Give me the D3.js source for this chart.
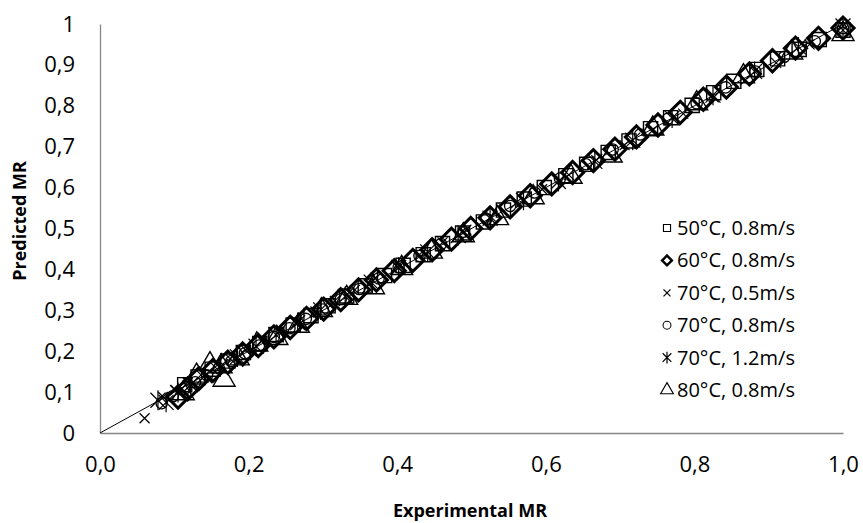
<!DOCTYPE html>
<html>
<head>
<meta charset="utf-8">
<script src="https://cdn.jsdelivr.net/npm/d3@7"></script>
<style>
  body { margin: 0; background: #fff; }
  text { font-family: "Open Sans", Lato, sans-serif; fill: #000; }
</style>
</head>
<body>
<script>
// Datos: [MR experimental, MR predicho]
var s50 = [[1.000,0.985],[0.968,0.962],[0.941,0.938],[0.912,0.915],[0.884,0.889],[0.853,0.860],[0.826,0.832],[0.797,0.801],[0.768,0.771],[0.741,0.744],[0.712,0.714],[0.684,0.686],[0.655,0.657],[0.627,0.629],[0.598,0.600],[0.571,0.572],[0.543,0.545],[0.516,0.516],[0.488,0.489],[0.461,0.463],[0.435,0.436],[0.408,0.410],[0.383,0.385],[0.357,0.360],[0.332,0.335],[0.307,0.311],[0.284,0.287],[0.260,0.264],[0.237,0.241],[0.215,0.219],[0.193,0.197],[0.172,0.176],[0.151,0.156],[0.132,0.137],[0.114,0.118]];
var s60 = [[1.000,0.990],[0.967,0.965],[0.936,0.941],[0.905,0.910],[0.874,0.878],[0.843,0.846],[0.812,0.816],[0.781,0.784],[0.751,0.753],[0.722,0.724],[0.693,0.694],[0.664,0.666],[0.636,0.637],[0.608,0.609],[0.579,0.580],[0.552,0.553],[0.525,0.526],[0.499,0.500],[0.473,0.474],[0.447,0.448],[0.421,0.422],[0.396,0.397],[0.372,0.374],[0.348,0.350],[0.324,0.326],[0.301,0.303],[0.278,0.280],[0.256,0.258],[0.234,0.235],[0.213,0.214],[0.192,0.193],[0.172,0.173],[0.152,0.153],[0.133,0.133],[0.118,0.108],[0.105,0.088]];
var s70a = [[1.000,0.985],[0.955,0.950],[0.910,0.905],[0.868,0.862],[0.826,0.821],[0.785,0.781],[0.745,0.742],[0.706,0.704],[0.668,0.667],[0.631,0.631],[0.595,0.596],[0.560,0.562],[0.526,0.529],[0.493,0.497],[0.461,0.466],[0.430,0.436],[0.400,0.406],[0.371,0.378],[0.343,0.350],[0.316,0.323],[0.290,0.297],[0.265,0.272],[0.241,0.248],[0.218,0.225],[0.196,0.203],[0.175,0.182],[0.155,0.161],[0.136,0.142],[0.118,0.123],[0.101,0.105],[0.085,0.088],[0.060,0.036]];
var s70b = [[1.000,0.990],[0.962,0.958],[0.921,0.920],[0.882,0.884],[0.842,0.845],[0.803,0.806],[0.764,0.768],[0.727,0.730],[0.690,0.693],[0.654,0.657],[0.619,0.622],[0.585,0.588],[0.552,0.555],[0.520,0.523],[0.489,0.492],[0.459,0.462],[0.430,0.433],[0.402,0.405],[0.375,0.378],[0.349,0.352],[0.324,0.327],[0.300,0.302],[0.277,0.279],[0.255,0.256],[0.234,0.235],[0.214,0.214],[0.195,0.195],[0.177,0.176],[0.160,0.158],[0.144,0.141],[0.128,0.124],[0.113,0.107],[0.098,0.090],[0.083,0.073]];
var s70c = [[1.000,0.995],[0.940,0.944],[0.881,0.884],[0.825,0.826],[0.770,0.770],[0.717,0.716],[0.666,0.664],[0.617,0.615],[0.570,0.569],[0.525,0.525],[0.482,0.483],[0.441,0.443],[0.402,0.405],[0.365,0.369],[0.330,0.334],[0.297,0.301],[0.266,0.270],[0.237,0.240],[0.210,0.212],[0.185,0.186],[0.162,0.162],[0.141,0.140],[0.122,0.118],[0.105,0.099],[0.089,0.075],[0.078,0.080]];
var s80 = [[1.000,0.975],[0.931,0.930],[0.866,0.872],[0.803,0.806],[0.744,0.744],[0.688,0.678],[0.634,0.626],[0.583,0.576],[0.535,0.525],[0.489,0.483],[0.446,0.443],[0.406,0.403],[0.368,0.356],[0.332,0.330],[0.298,0.300],[0.267,0.262],[0.238,0.232],[0.211,0.216],[0.186,0.182],[0.163,0.163],[0.148,0.168],[0.167,0.130],[0.130,0.140],[0.112,0.097]];

var etiquetas = ["50°C, 0.8m/s", "60°C, 0.8m/s", "70°C, 0.5m/s", "70°C, 0.8m/s", "70°C, 1.2m/s", "80°C, 0.8m/s"];
var xTicks = [0, 0.2, 0.4, 0.6, 0.8, 1.0];
var yTicks = [0, 0.1, 0.2, 0.3, 0.4, 0.5, 0.6, 0.7, 0.8, 0.9, 1];

// Parámetros generales
var width = 863, height = 523;
var margin = { top: 24, right: 20, bottom: 90, left: 100 };
var axisColor = "#868686";

var svg = d3.select("body").append("svg")
  .attr("width", width)
  .attr("height", height);

var x = d3.scaleLinear().domain([0, 1]).range([margin.left, width - margin.right]);
var y = d3.scaleLinear().domain([0, 1]).range([height - margin.bottom, margin.top]);

// Ejes
var xAxis = svg.append("g")
  .attr("transform", "translate(0," + y(0) + ")")
  .call(d3.axisBottom(x).tickValues(xTicks).tickSize(0).tickPadding(23)
    .tickFormat(function(d) { return d3.format(".1f")(d).replace(".", ","); }));
var yAxis = svg.append("g")
  .attr("transform", "translate(" + x(0) + ",0)")
  .call(d3.axisLeft(y).tickValues(yTicks).tickSize(0).tickPadding(25)
    .tickFormat(function(d) { return d === 0 || d === 1 ? String(d) : String(d).replace(".", ","); }));

[xAxis, yAxis].forEach(function(a) {
  a.select(".domain").attr("stroke", axisColor).attr("stroke-width", 1.3);
  a.selectAll("text").style("font-size", "22px").attr("fill", "#000");
});

// Títulos de ejes
svg.append("text")
  .attr("x", 470)
  .attr("y", 517)
  .attr("text-anchor", "middle")
  .style("font-size", "18px")
  .style("font-weight", "bold")
  .text("Experimental MR");

svg.append("text")
  .attr("transform", "translate(26,221) rotate(-90)")
  .attr("text-anchor", "middle")
  .style("font-size", "18px")
  .style("font-weight", "bold")
  .text("Predicted MR");

// Línea 1:1
svg.append("line")
  .attr("x1", x(0)).attr("y1", y(0))
  .attr("x2", x(1)).attr("y2", y(1))
  .attr("stroke", "#000")
  .attr("stroke-width", 1);

// Marcadores por serie
var series = [
  { data: s50,  sym: d3.symbolSquare,   size: 200, rot: 0,  sw: 1.4 },
  { data: s60,  sym: d3.symbolSquare,   size: 245, rot: 45, sw: 3 },
  { data: s70a, sym: null,              size: 0,   rot: 0,  sw: 1.2, cross: 5 },
  { data: s70b, sym: d3.symbolCircle,   size: 100, rot: 0,  sw: 1.3 },
  { data: s70c, sym: null,              size: 0,   rot: 0,  sw: 1.2, star: 10 },
  { data: s80,  sym: d3.symbolTriangle, size: 210, rot: 0,  sw: 1.4 }
];

function drawMarker(g, s, scale) {
  if (s.cross) {
    var c = s.cross * scale;
    g.append("path").attr("d", "M" + -c + "," + -c + "L" + c + "," + c + "M" + c + "," + -c + "L" + -c + "," + c)
      .attr("stroke", "#000").attr("stroke-width", s.sw).attr("fill", "none");
  } else if (s.star) {
    var r = s.star * scale, a = r * 0.75;
    g.append("path").attr("d", "M0," + -r + "L0," + r + "M" + -a + "," + -a + "L" + a + "," + a + "M" + a + "," + -a + "L" + -a + "," + a)
      .attr("stroke", "#000").attr("stroke-width", s.sw).attr("fill", "none");
  } else {
    g.append("path").attr("d", d3.symbol().type(s.sym).size(s.size * scale * scale)())
      .attr("transform", "rotate(" + s.rot + ")")
      .attr("stroke", "#000").attr("stroke-width", s.sw * (scale < 1 ? 0.8 : 1)).attr("fill", "none");
  }
}

series.forEach(function(s) {
  svg.append("g").selectAll("g")
    .data(s.data)
    .enter()
    .append("g")
    .attr("transform", function(d) { return "translate(" + x(d[0]) + "," + y(d[1]) + ")"; })
    .each(function() { drawMarker(d3.select(this), s, 1); });
});

// Leyenda
var legend = svg.append("g").attr("transform", "translate(667,228)");
etiquetas.forEach(function(t, i) {
  var row = legend.append("g").attr("transform", "translate(0," + (i * 32.4) + ")");
  var s = series[i];
  var sc = [0.5, 0.44, 0.7, 0.7, 0.58, 0.58][i];
  drawMarker(row, s, sc);
  row.append("text")
    .attr("x", 10)
    .attr("y", 7)
    .style("font-size", "20px")
    .text(t);
});
</script>
</body>
</html>
